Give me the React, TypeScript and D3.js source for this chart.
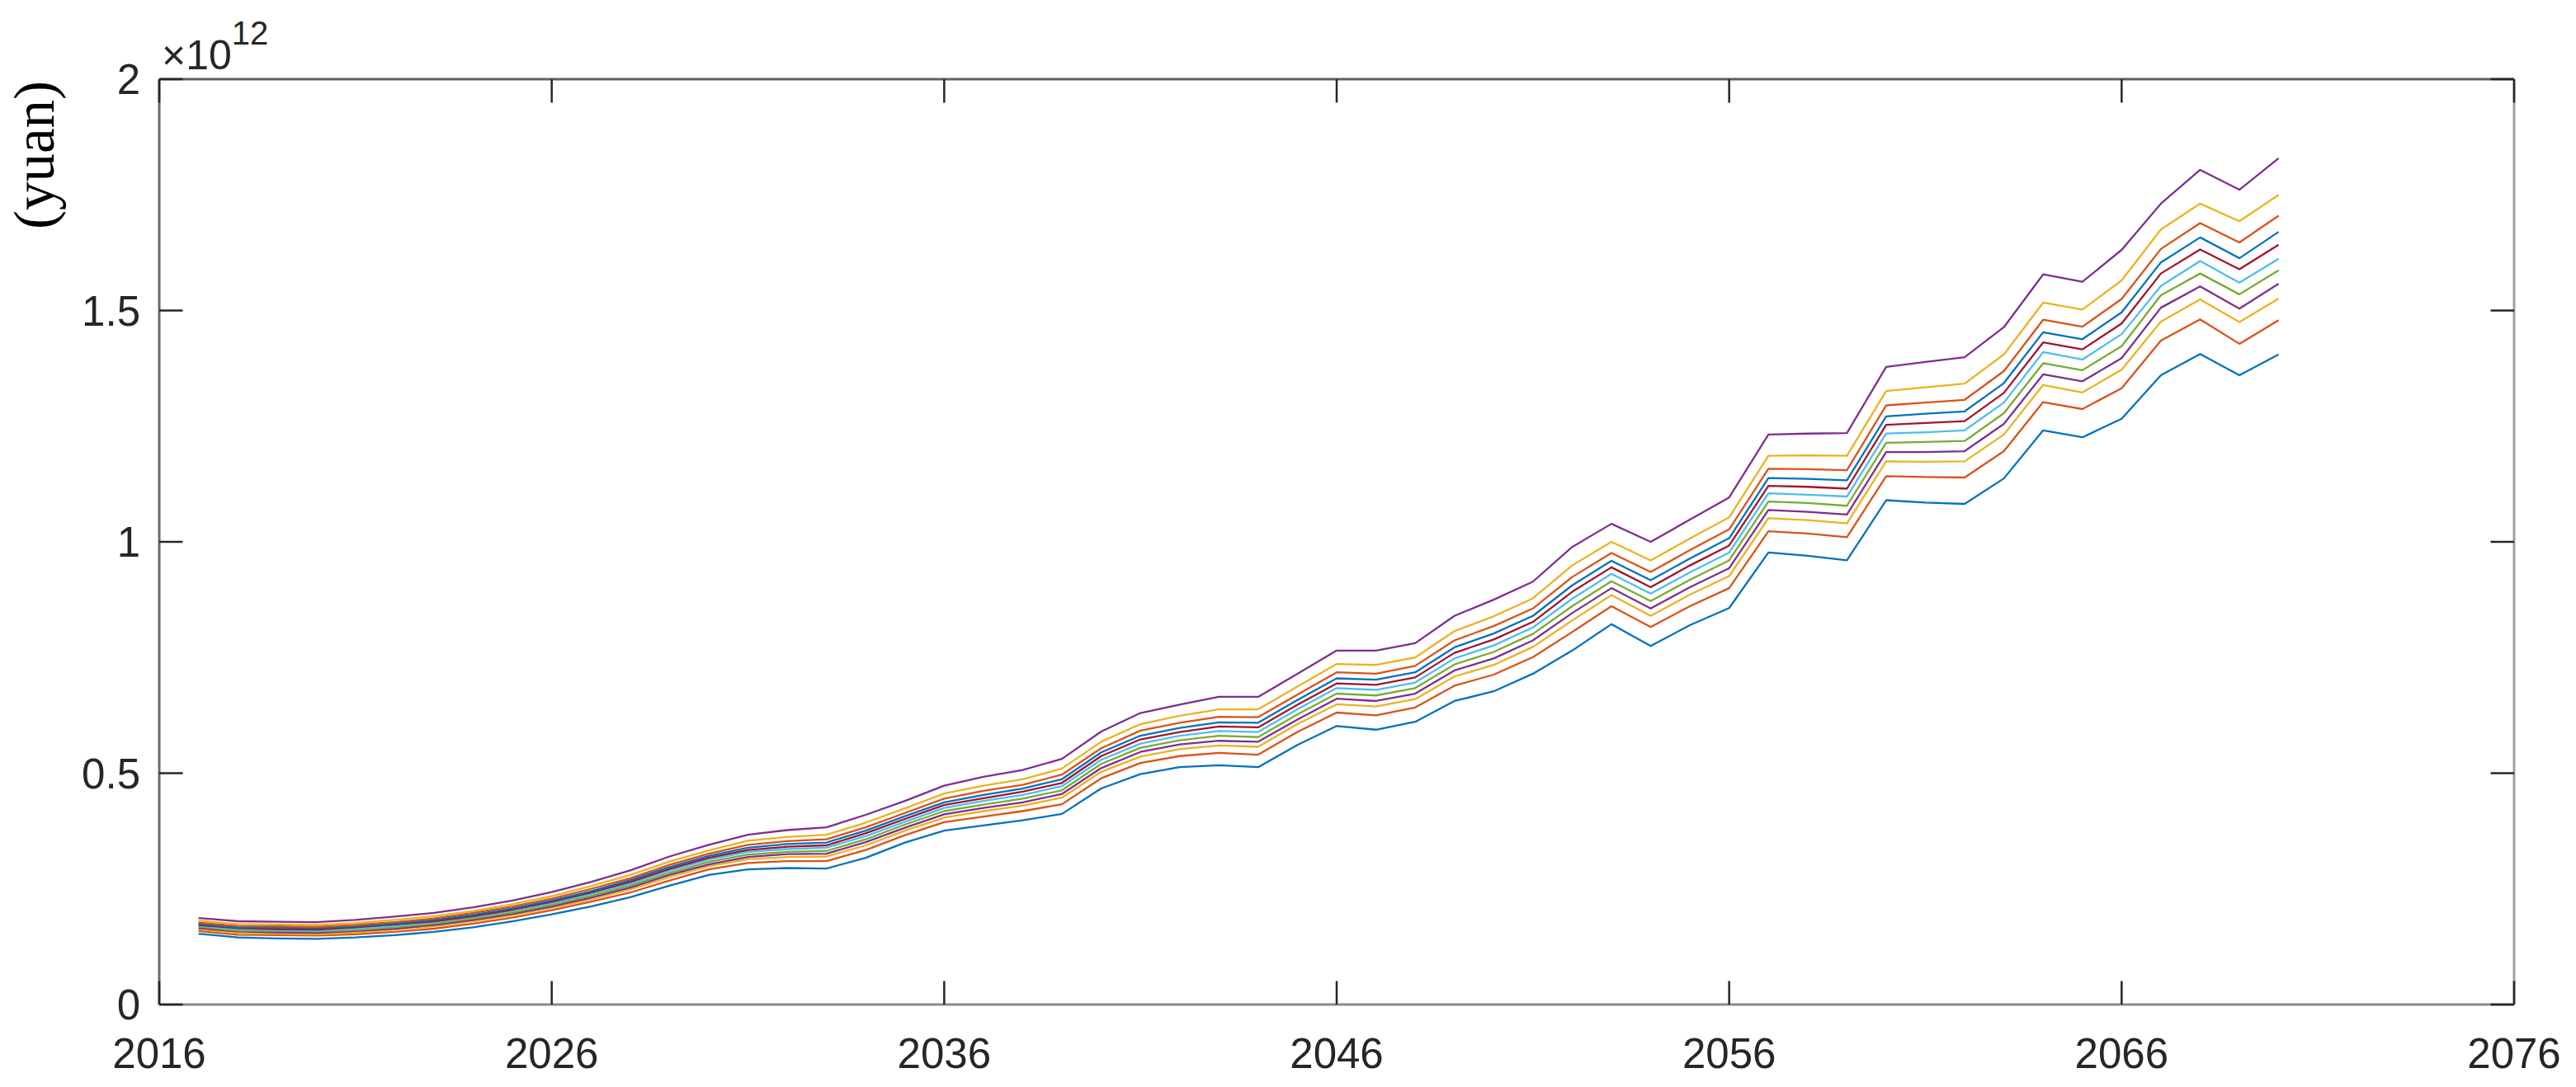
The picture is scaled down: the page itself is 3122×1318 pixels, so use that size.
import React from "react";
import * as d3 from "d3";

const years = [
  2017, 2018, 2019, 2020, 2021, 2022, 2023, 2024, 2025, 2026,
  2027, 2028, 2029, 2030, 2031, 2032, 2033, 2034, 2035, 2036,
  2037, 2038, 2039, 2040, 2041, 2042, 2043, 2044, 2045, 2046,
  2047, 2048, 2049, 2050, 2051, 2052, 2053, 2054, 2055, 2056,
  2057, 2058, 2059, 2060, 2061, 2062, 2063, 2064, 2065, 2066,
  2067, 2068, 2069, 2070,
];

// values in units of 1e12 yuan
const s01 = [0.153,0.145,0.143,0.142,0.145,0.150,0.157,0.167,0.180,0.195,0.212,0.232,0.257,0.280,0.292,0.295,0.294,0.317,0.350,0.376,0.387,0.398,0.412,0.467,0.498,0.513,0.517,0.513,0.561,0.602,0.594,0.611,0.656,0.677,0.715,0.765,0.822,0.775,0.820,0.857,0.977,0.970,0.960,1.090,1.085,1.082,1.137,1.241,1.226,1.266,1.360,1.406,1.360,1.405];
const s02 = [0.159,0.151,0.150,0.149,0.152,0.157,0.164,0.175,0.188,0.204,0.222,0.242,0.268,0.292,0.306,0.310,0.310,0.334,0.366,0.394,0.406,0.418,0.433,0.489,0.522,0.537,0.544,0.540,0.589,0.631,0.625,0.642,0.689,0.713,0.751,0.805,0.861,0.816,0.861,0.900,1.023,1.018,1.010,1.142,1.140,1.139,1.196,1.302,1.287,1.332,1.435,1.481,1.428,1.479];
const s03 = [0.163,0.155,0.153,0.152,0.156,0.162,0.169,0.180,0.193,0.209,0.227,0.249,0.275,0.299,0.314,0.319,0.320,0.344,0.376,0.404,0.418,0.430,0.447,0.503,0.536,0.552,0.560,0.557,0.606,0.649,0.644,0.660,0.709,0.734,0.773,0.830,0.885,0.840,0.886,0.926,1.051,1.047,1.040,1.174,1.173,1.174,1.232,1.339,1.323,1.372,1.476,1.524,1.475,1.526];
const s04 = [0.165,0.158,0.156,0.155,0.159,0.164,0.172,0.183,0.196,0.212,0.231,0.253,0.280,0.303,0.319,0.325,0.326,0.351,0.382,0.411,0.425,0.437,0.455,0.511,0.546,0.562,0.570,0.568,0.616,0.661,0.656,0.672,0.722,0.748,0.787,0.846,0.900,0.856,0.902,0.943,1.069,1.065,1.059,1.194,1.194,1.196,1.255,1.362,1.347,1.397,1.506,1.552,1.504,1.558];
const s05 = [0.168,0.160,0.159,0.158,0.161,0.167,0.175,0.186,0.199,0.216,0.235,0.257,0.284,0.308,0.324,0.330,0.332,0.357,0.389,0.418,0.432,0.445,0.463,0.520,0.555,0.571,0.581,0.578,0.627,0.672,0.668,0.684,0.735,0.762,0.801,0.861,0.915,0.872,0.918,0.960,1.087,1.084,1.078,1.214,1.216,1.218,1.278,1.386,1.371,1.423,1.533,1.580,1.535,1.587];
const s06 = [0.170,0.163,0.161,0.160,0.164,0.170,0.178,0.189,0.203,0.219,0.239,0.261,0.289,0.313,0.330,0.336,0.339,0.364,0.395,0.425,0.440,0.453,0.472,0.529,0.564,0.581,0.591,0.589,0.638,0.684,0.680,0.696,0.748,0.776,0.815,0.877,0.931,0.888,0.934,0.977,1.105,1.102,1.098,1.234,1.237,1.241,1.301,1.410,1.394,1.449,1.553,1.607,1.560,1.612];
const s07 = [0.172,0.165,0.163,0.162,0.167,0.173,0.180,0.191,0.205,0.222,0.242,0.265,0.293,0.317,0.334,0.341,0.344,0.370,0.401,0.431,0.446,0.460,0.479,0.537,0.573,0.589,0.601,0.599,0.648,0.694,0.691,0.707,0.760,0.789,0.827,0.892,0.945,0.902,0.949,0.992,1.121,1.119,1.115,1.253,1.257,1.261,1.322,1.431,1.416,1.472,1.580,1.632,1.589,1.642];
const s08 = [0.174,0.167,0.166,0.165,0.169,0.175,0.183,0.194,0.208,0.225,0.245,0.269,0.297,0.321,0.339,0.347,0.350,0.376,0.407,0.437,0.453,0.467,0.487,0.545,0.581,0.598,0.610,0.609,0.658,0.705,0.702,0.718,0.772,0.802,0.840,0.906,0.959,0.917,0.964,1.008,1.138,1.136,1.133,1.271,1.277,1.282,1.343,1.453,1.438,1.496,1.604,1.658,1.613,1.670];
const s09 = [0.177,0.170,0.169,0.168,0.172,0.178,0.186,0.198,0.212,0.229,0.250,0.273,0.302,0.326,0.345,0.353,0.357,0.383,0.414,0.445,0.462,0.475,0.497,0.554,0.592,0.609,0.622,0.621,0.670,0.718,0.715,0.732,0.787,0.818,0.856,0.924,0.976,0.935,0.982,1.027,1.158,1.157,1.155,1.295,1.301,1.307,1.369,1.480,1.465,1.525,1.633,1.689,1.647,1.705];
const s10 = [0.181,0.174,0.173,0.172,0.176,0.183,0.191,0.202,0.217,0.234,0.256,0.280,0.309,0.333,0.354,0.362,0.367,0.393,0.424,0.456,0.473,0.487,0.510,0.568,0.606,0.624,0.638,0.638,0.687,0.736,0.734,0.750,0.807,0.839,0.878,0.949,1.000,0.960,1.007,1.053,1.186,1.187,1.186,1.326,1.334,1.342,1.405,1.517,1.502,1.565,1.675,1.731,1.693,1.750];
const s11 = [0.187,0.180,0.179,0.178,0.183,0.190,0.198,0.210,0.225,0.243,0.265,0.290,0.320,0.345,0.367,0.377,0.383,0.410,0.440,0.473,0.492,0.507,0.531,0.590,0.630,0.648,0.665,0.665,0.715,0.765,0.765,0.781,0.840,0.875,0.914,0.989,1.039,1.000,1.048,1.096,1.232,1.234,1.235,1.378,1.389,1.399,1.464,1.578,1.562,1.631,1.731,1.804,1.761,1.829];

const seriesList = [s01, s02, s03, s04, s05, s06, s07, s08, s09, s10, s11];
const seriesColors = [
  "#0072BD", "#D95319", "#EDB120", "#7E2F8E", "#77AC30", "#4DBEEE",
  "#A2142F", "#0072BD", "#D95319", "#EDB120", "#7E2F8E",
];

const xTicks = [2016, 2026, 2036, 2046, 2056, 2066, 2076];
const yTicks = [0, 0.5, 1, 1.5, 2];
const yTickLabels = ["0", "0.5", "1", "1.5", "2"];

const W = 3122;
const H = 1318;
const L = 193, R = 3047, T = 96, B = 1218;
const TICK = 28.5;
const FONT = "'Liberation Sans', Arial, Helvetica, sans-serif";

export default function App() {
  const x = d3.scaleLinear().domain([2016, 2076]).range([L, R]);
  const y = d3.scaleLinear().domain([0, 2]).range([B, T]);
  const line = d3
    .line<number>()
    .x((_, i) => x(years[i]))
    .y((d) => y(d));

  return (
    <svg
      width={W}
      height={H}
      style={{ position: "absolute", left: 0, top: 0, display: "block", background: "#fff" }}
    >
      <rect x={0} y={0} width={W} height={H} fill="#ffffff" />
      {/* data lines */}
      <g fill="none" strokeWidth={2.3} strokeLinejoin="round">
        {seriesList.map((s, i) => (
          <path key={i} d={line(s) || ""} stroke={seriesColors[i]} />
        ))}
      </g>
      {/* box */}
      <line x1={L} x2={R} y1={T} y2={T} stroke="#606060" strokeWidth={3} />
      <line x1={L} x2={L} y1={T} y2={B} stroke="#6a6a6a" strokeWidth={3} />
      <line x1={R} x2={R} y1={T} y2={B} stroke="#a0a0a0" strokeWidth={3} />
      <line x1={L} x2={R} y1={B} y2={B} stroke="#8a8a8a" strokeWidth={3} />
      {/* ticks */}
      <g stroke="#262626" strokeWidth={2.5}>
        {xTicks.map((t) => (
          <g key={t}>
            <line x1={x(t)} x2={x(t)} y1={B} y2={B - TICK} />
            <line x1={x(t)} x2={x(t)} y1={T} y2={T + TICK} />
          </g>
        ))}
        {yTicks.map((t) => (
          <g key={t}>
            <line x1={L} x2={L + TICK} y1={y(t)} y2={y(t)} />
            <line x1={R} x2={R - TICK} y1={y(t)} y2={y(t)} />
          </g>
        ))}
      </g>
      {/* tick labels */}
      <g fontFamily={FONT} fontSize={51} fill="#262626">
        {xTicks.map((t) => (
          <text key={t} x={x(t)} y={1295} textAnchor="middle">
            {t}
          </text>
        ))}
        {yTicks.map((t, i) => (
          <text key={t} x={170} y={y(t) + 18} textAnchor="end">
            {yTickLabels[i]}
          </text>
        ))}
      </g>
      {/* exponent */}
      <text x={196} y={84} fontFamily={FONT} fontSize={50} fill="#262626">
        ×10
        <tspan fontSize={40} dy={-30}>12</tspan>
      </text>
      {/* y label */}
      <text
        transform="translate(65,188) rotate(-90)"
        textAnchor="middle"
        fontFamily="'Liberation Serif', 'Times New Roman', serif"
        fontSize={69}
        fill="#000"
      >
        (yuan)
      </text>
    </svg>
  );
}
